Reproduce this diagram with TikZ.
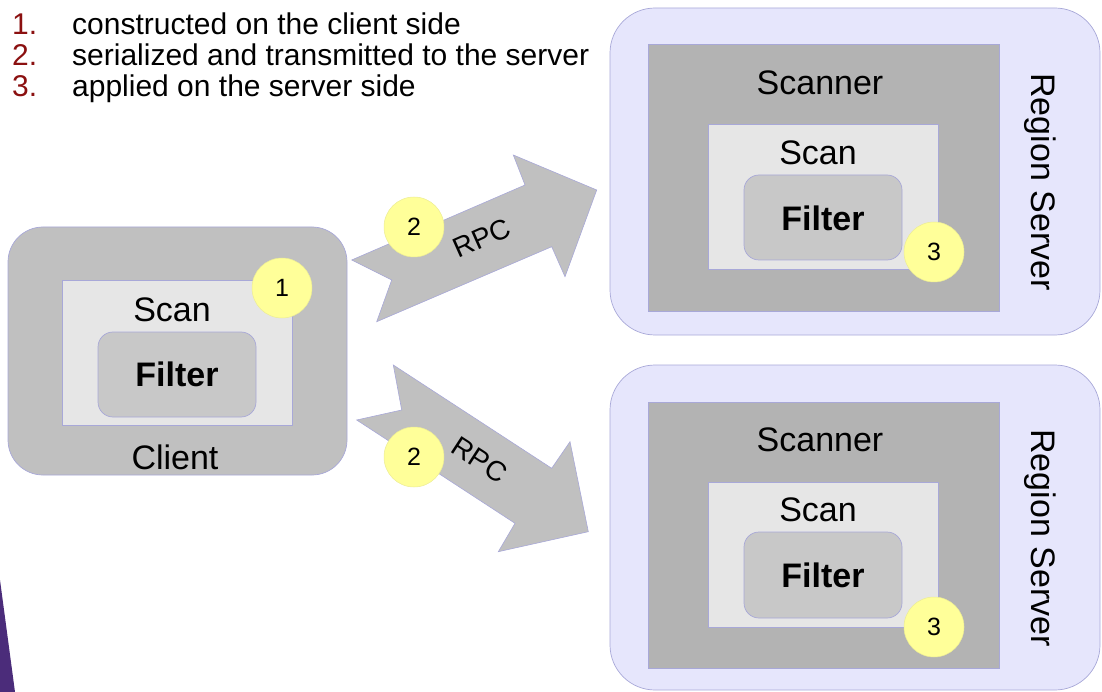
\documentclass[tikz,border=0pt]{standalone}
\usepackage{fontspec}
\setmainfont{Liberation Sans}
\usepackage{xcolor}

\definecolor{clientgray}{HTML}{C0C0C0}
\definecolor{scangray}{HTML}{E6E6E6}
\definecolor{filtergray}{HTML}{C8C8C8}
\definecolor{scannergray}{HTML}{B3B3B3}
\definecolor{serverblue}{HTML}{E6E6FC}
\definecolor{edgeblue}{HTML}{A8A8D8}
\definecolor{stepyellow}{HTML}{FFFF99}
\definecolor{numred}{HTML}{8B1010}
\definecolor{cornerpurple}{HTML}{4B2C7A}

\tikzset{
  box/.style={draw=edgeblue, line width=0.7pt, inner sep=0pt},
  label/.style={font=\fontsize{34}{40}\selectfont, inner sep=0pt},
  badge/.style={circle, fill=stepyellow, draw=stepyellow!85!gray, line width=0.5pt,
    minimum size=60pt, inner sep=0pt, font=\fontsize{25}{30}\selectfont},
  blockarrow/.style={fill=clientgray, draw=edgeblue, line width=0.6pt, line join=miter},
  listline/.style={anchor=base west, inner sep=0pt, font=\fontsize{30}{34}\selectfont}
}

\begin{document}
\begin{tikzpicture}[x=1pt,y=-1pt]
%\draw[help lines] (0,0) grid (1102,692);
\useasboundingbox (0,0) rectangle (1102,692);

% steps
\node[listline] (item1) at (12,35) {\makebox[60pt][l]{\textcolor{numred}{1.}}constructed on the client side};
\node[listline] (item2) at (12,66) {\makebox[60pt][l]{\textcolor{numred}{2.}}serialized and transmitted to the server};
\node[listline] (item3) at (12,97) {\makebox[60pt][l]{\textcolor{numred}{3.}}applied on the server side};

% client
\node[box, fill=clientgray, rounded corners=35pt, minimum width=339pt, minimum height=248pt] (client) at (177.5,351) {};
\node[box, fill=scangray, minimum width=230pt, minimum height=145pt] (clientscan) at (177,352.5) {};
\node[box, fill=filtergray, rounded corners=15pt, minimum width=158pt, minimum height=85pt] (clientfilter) at (177,374.5) {};
\node[label] (clientscantext) at (172,310) {Scan};
\node[label] (clientfiltertext) at (177,374) {\bfseries Filter};
\node[label] (clienttext) at (175,457) {Client};
\node[badge] (step1) at (282,288) {1};

% region server 1
\node[box, fill=serverblue, rounded corners=45pt, minimum width=490pt, minimum height=327pt] (server1) at (855,171.5) {};
\node[box, fill=scannergray, minimum width=351pt, minimum height=267pt] (scanner1) at (823.5,177.5) {};
\node[box, fill=scangray, minimum width=230pt, minimum height=145pt] (scan1) at (823,196.5) {};
\node[box, fill=filtergray, rounded corners=15pt, minimum width=158pt, minimum height=85pt] (filter1) at (823,217.5) {};
\node[label] (scanner1text) at (820,83) {Scanner};
\node[label] (scan1text) at (818,153) {Scan};
\node[label] (filter1text) at (823,218) {\bfseries Filter};
\node[label, rotate=-90] (server1text) at (1040,182) {Region Server};
\node[badge] (step3a) at (934,252) {3};

% region server 2
\node[box, fill=serverblue, rounded corners=45pt, minimum width=490pt, minimum height=325pt] (server2) at (855,527.5) {};
\node[box, fill=scannergray, minimum width=351pt, minimum height=266pt] (scanner2) at (823.5,535) {};
\node[box, fill=scangray, minimum width=230pt, minimum height=145pt] (scan2) at (823,554.5) {};
\node[box, fill=filtergray, rounded corners=15pt, minimum width=158pt, minimum height=86pt] (filter2) at (823,575) {};
\node[label] (scanner2text) at (820,440) {Scanner};
\node[label] (scan2text) at (818,510) {Scan};
\node[label] (filter2text) at (823,575) {\bfseries Filter};
\node[label, rotate=-90] (server2text) at (1040,538) {Region Server};
\node[badge] (step3b) at (934,627) {3};

% rpc arrows
\draw[blockarrow] (351.7,260) -- (525,185) -- (513.3,155) -- (596.7,190) -- (565,276.7)
  -- (551.7,246.7) -- (376.7,321.7) -- (391.7,280) -- cycle;
\draw[blockarrow] (393.3,365) -- (401.7,410) -- (356.7,420) -- (515,523.3) -- (498.3,551.7)
  -- (588.3,531.7) -- (570,441.7) -- (551.7,468.3) -- cycle;
\node[label, font=\fontsize{28}{32}\selectfont, rotate=24] (rpc1) at (482,238) {RPC};
\node[label, font=\fontsize{28}{32}\selectfont, rotate=-33] (rpc2) at (480,460) {RPC};
\node[badge] (step2a) at (414,227) {2};
\node[badge] (step2b) at (414,457) {2};

% corner
\fill[cornerpurple] (0,580) -- (15,692) -- (0,692) -- cycle;
\end{tikzpicture}
\end{document}
